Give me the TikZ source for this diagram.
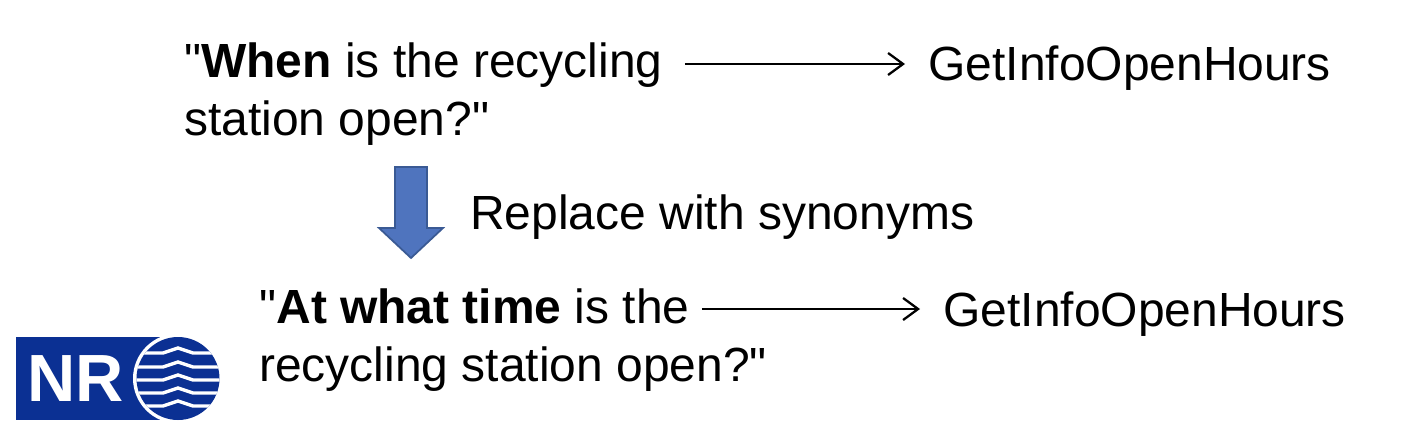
\documentclass[tikz,border=0pt]{standalone}
\usepackage{xcolor}
\usepackage{fontspec}
\setmainfont{Liberation Sans}[Ligatures=TeXOff]
\usetikzlibrary{arrows.meta}
\definecolor{nrblue}{HTML}{0B3093}
\definecolor{blockfill}{HTML}{4F74BE}
\definecolor{blockline}{HTML}{3A5A94}
\tikzset{
  txt/.style={anchor=west,inner sep=0pt,text height=0.76cm,text depth=0.2cm,font=\fontsize{27.3}{32}\selectfont},
  target/.style={txt,text height=0.84cm,text depth=0.16cm},
  conn/.style={-{Straight Barb[length=0.3cm,width=0.44cm,line width=1.3pt]},line width=1.3pt,shorten <=0.44cm,shorten >=0.46cm}
}

\begin{document}
\begin{tikzpicture}[x=0.02cm,y=-0.02cm]
      \useasboundingbox (0,0) rectangle (1408,446);

      % First question
      \node[txt] (whenq) at (184,64) {"\textbf{When} is the recycling};
      \node[txt] (stationq) at (184,122) {station open?"};
      \node[target] (intenta) at (928,64) {GetInfoOpenHours};
      \draw[conn] (whenq.east) -- (intenta.west);

      % Block arrow
      \draw[fill=blockfill,draw=blockline,line width=1pt] (395,167) -- (427,167) -- (427,228) -- (443,228)
          -- (411,258) -- (379,228) -- (395,228) -- cycle;
      \node[txt] (replace) at (470,215) {Replace with synonyms};

      % Second question
      \node[txt] (timeq) at (259,309) {"\textbf{At what time} is the};
      \node[txt] (recyclingq) at (259,367) {recycling station open?"};
      \node[target] (intentb) at (943,309) {GetInfoOpenHours};
      \draw[conn,shorten <=0.24cm] (timeq.east) -- (intentb.west);

      % Logo
      \fill[nrblue] (16,337) rectangle (172,420);
      \fill[white] (178,378.5) circle (45);
      \begin{scope}
          \clip (178,378.5) circle (41.5);
          \fill[nrblue] (130,330) rectangle (230,426);
          \foreach \yy in {353,367,380,393,406} {
              \draw[white,line width=1.9pt] (130,\yy) -- (163,\yy) -- (178,\yy-5) -- (193,\yy) -- (230,\yy);
          }
      \end{scope}
      \node[anchor=west,inner sep=0pt,text=white,font=\fontsize{38}{38}\selectfont\bfseries] (nrlabel) at (27,378.5) {NR};
\end{tikzpicture}
\end{document}
